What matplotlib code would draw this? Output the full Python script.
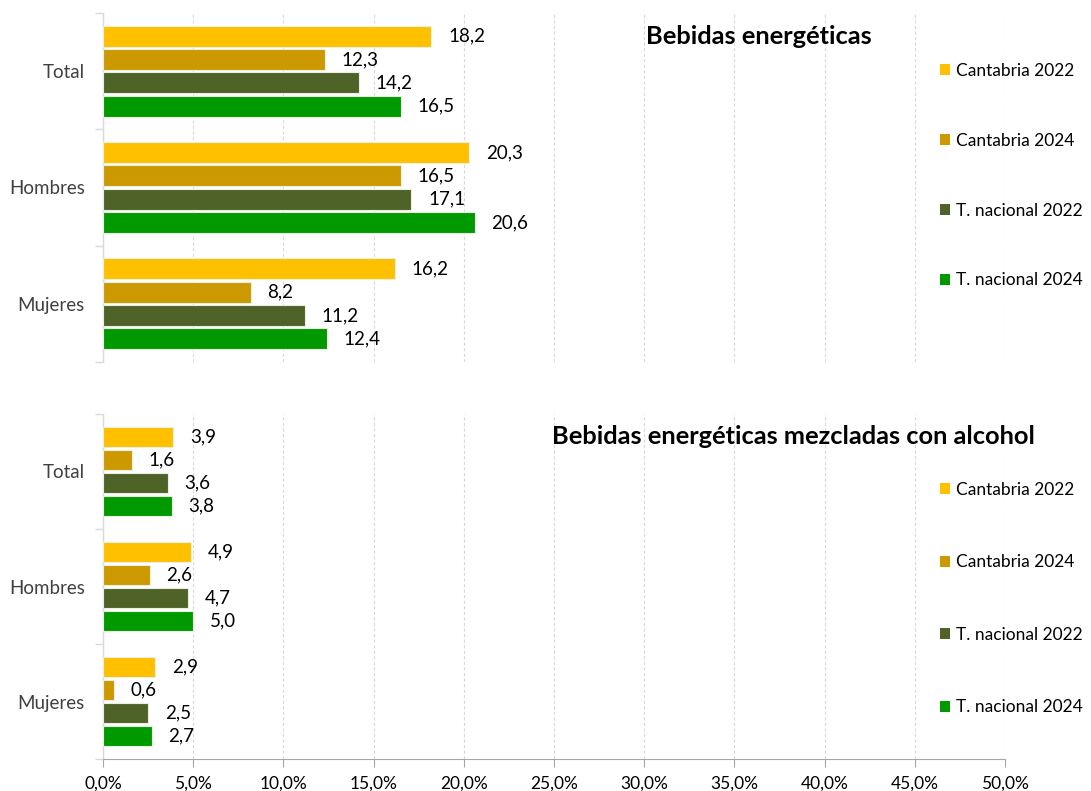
import matplotlib.pyplot as plt
from matplotlib.patches import Patch

plt.rcParams['font.family'] = ['Lato', 'DejaVu Sans']

categories = ["Total", "Hombres", "Mujeres"]
series = ["Cantabria 2022", "Cantabria 2024", "T. nacional 2022", "T. nacional 2024"]
colors = ["#FFC000", "#CC9900", "#4F6228", "#009900"]

# values per series, in category order (Total, Hombres, Mujeres)
energeticas = {
    "Cantabria 2022": [18.2, 20.3, 16.2],
    "Cantabria 2024": [12.3, 16.5, 8.2],
    "T. nacional 2022": [14.2, 17.1, 11.2],
    "T. nacional 2024": [16.5, 20.6, 12.4],
}
con_alcohol = {
    "Cantabria 2022": [3.9, 4.9, 2.9],
    "Cantabria 2024": [1.6, 2.6, 0.6],
    "T. nacional 2022": [3.6, 4.7, 2.5],
    "T. nacional 2024": [3.8, 5.0, 2.7],
}
x_ticks = [0, 5, 10, 15, 20, 25, 30, 35, 40, 45, 50]

W, H = 1091, 791
fig = plt.figure(figsize=(W / 100, H / 100), dpi=100)


def px_axes(left, top, right, bottom):
    return fig.add_axes([left / W, 1 - bottom / H, (right - left) / W, (bottom - top) / H])


def draw_panel(ax, data, title, title_xy, legend_top, spacing, show_x):
    for j, name in enumerate(series):
        ys = [i + 0.2 + 0.2 * j for i in range(len(categories))]
        bars = ax.barh(ys, data[name], height=0.18, color=colors[j],
                       edgecolor="#E8F0E0", linewidth=0.8, zorder=3)
        for b, v in zip(bars, data[name]):
            ax.annotate(f"{v:.1f}".replace(".", ","), (b.get_width(), b.get_y() + b.get_height() / 2),
                        xytext=(12, 0), textcoords="offset points", va="center", ha="left",
                        fontsize=13.5, color="black")
    ax.set_xlim(0, 50)
    ax.set_ylim(len(categories), 0)
    ax.set_xticks(x_ticks)
    ax.set_yticks([i + 0.5 for i in range(len(categories))])
    ax.set_yticklabels(categories, fontsize=13.5, color="#404040")
    ax.set_yticks(range(len(categories) + 1), minor=True)
    ax.tick_params(axis="y", which="major", length=0, pad=13)
    ax.tick_params(axis="y", which="minor", length=6, color="#D9D9D9", width=1)
    ax.grid(axis="x", linestyle=(0, (3, 2)), color="#D9D9D9", linewidth=0.8, zorder=0)
    for s in ["top", "right"]:
        ax.spines[s].set_visible(False)
    ax.spines["left"].set_color("#D9D9D9")
    ax.spines["left"].set_linewidth(1)
    if show_x:
        ax.spines["bottom"].set_color("#A6A6A6")
        ax.tick_params(axis="x", length=6, color="#A6A6A6", labelsize=12.5, pad=6)
        ax.set_xticklabels([f"{t:.1f}%".replace(".", ",") for t in x_ticks])
    else:
        ax.spines["bottom"].set_visible(False)
        ax.tick_params(axis="x", length=0, labelbottom=False)
    fig.text(title_xy[0] / W, 1 - title_xy[1] / H, title, fontsize=18.3, fontweight="bold",
             ha="center", va="center")
    handles = [Patch(facecolor=c, edgecolor="none") for c in colors]
    fig.legend(handles, series, loc="upper left", bbox_to_anchor=(940 / W, 1 - legend_top / H),
               frameon=False, fontsize=12.5, handlelength=0.6, handleheight=0.6,
               handletextpad=0.35, labelspacing=spacing, borderpad=0, borderaxespad=0)


ax1 = px_axes(103, 13, 1005, 362)
draw_panel(ax1, energeticas, "Bebidas energéticas", (759, 37), 63, 3.1, False)

ax2 = px_axes(103, 414, 1005, 759)
draw_panel(ax2, con_alcohol, "Bebidas energéticas mezcladas con alcohol", (793, 437), 482, 3.25, True)

fig.savefig("out.png", dpi=100)
